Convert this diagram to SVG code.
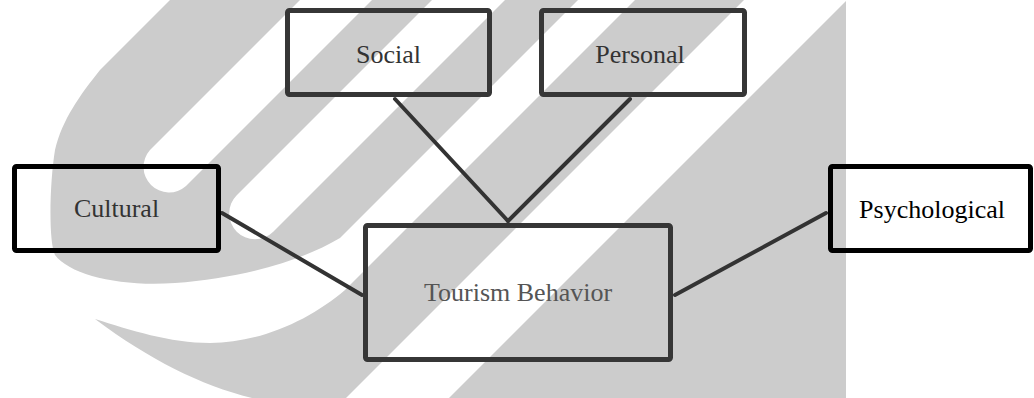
<svg xmlns="http://www.w3.org/2000/svg" width="1034" height="398" viewBox="0 0 1034 398">
<style>
.wm{fill:#cccccc;stroke:none}
.box{fill:none;stroke:#363636;stroke-width:5;stroke-linejoin:round}
.box.dark{stroke:#000}
.lbl{font-family:"Liberation Serif","Times New Roman",serif;font-size:26px;text-anchor:middle}
.con{stroke:#333;stroke-width:4;stroke-linecap:round;fill:none}
</style>
<rect width="1034" height="398" fill="#fff"/>
<g id="watermark">
<path class="wm" d="M170,0 L300,0 L150,150 A25.5,25.5 0 0 0 186,186 L372,0 L432,0 L236.75,195.25 A25.8,25.8 0 0 0 273.25,231.75 L505,0 L578,0 L340,238 C300,262 240,278 175,283 C120,287 70,275 55,255 C48,240 50,180 55,150 C62,120 80,95 100,70 Z"/>
<path class="wm" d="M635,0 L744,0 L346,398 L252,398 C200,385 150,360 95,319 C130,330 170,343 210,343 C260,343 310,320 345,290 Z"/>
<path class="wm" d="M846,1 L846,398 L449,398 Z"/>
</g>
<g id="connectors">
<line class="con" x1="395" y1="99" x2="508" y2="221"/>
<line class="con" x1="630" y1="99" x2="508" y2="221"/>
<line class="con" x1="222" y1="213" x2="362" y2="295"/>
<line class="con" x1="675" y1="295" x2="826" y2="213"/>
</g>
<g id="social">
<rect class="box" x="287.5" y="10.5" width="202" height="84" rx="2"/>
<text class="lbl" x="388.5" y="63" fill="#333">Social</text>
</g>
<g id="personal">
<rect class="box" x="541.5" y="10.5" width="203" height="84" rx="2"/>
<text class="lbl" x="640" y="63" fill="#333">Personal</text>
</g>
<g id="cultural">
<rect class="box dark" x="14.5" y="166.5" width="204" height="84" rx="2"/>
<text class="lbl" x="116.5" y="217" fill="#333">Cultural</text>
</g>
<g id="tourism">
<rect class="box" x="365.5" y="225.5" width="305" height="134" rx="2"/>
<text class="lbl" x="518" y="301" fill="#555">Tourism Behavior</text>
</g>
<g id="psychological">
<rect class="box dark" x="830.5" y="166.5" width="200" height="84" rx="2"/>
<text class="lbl" x="932" y="218" fill="#000">Psychological</text>
</g>
</svg>
